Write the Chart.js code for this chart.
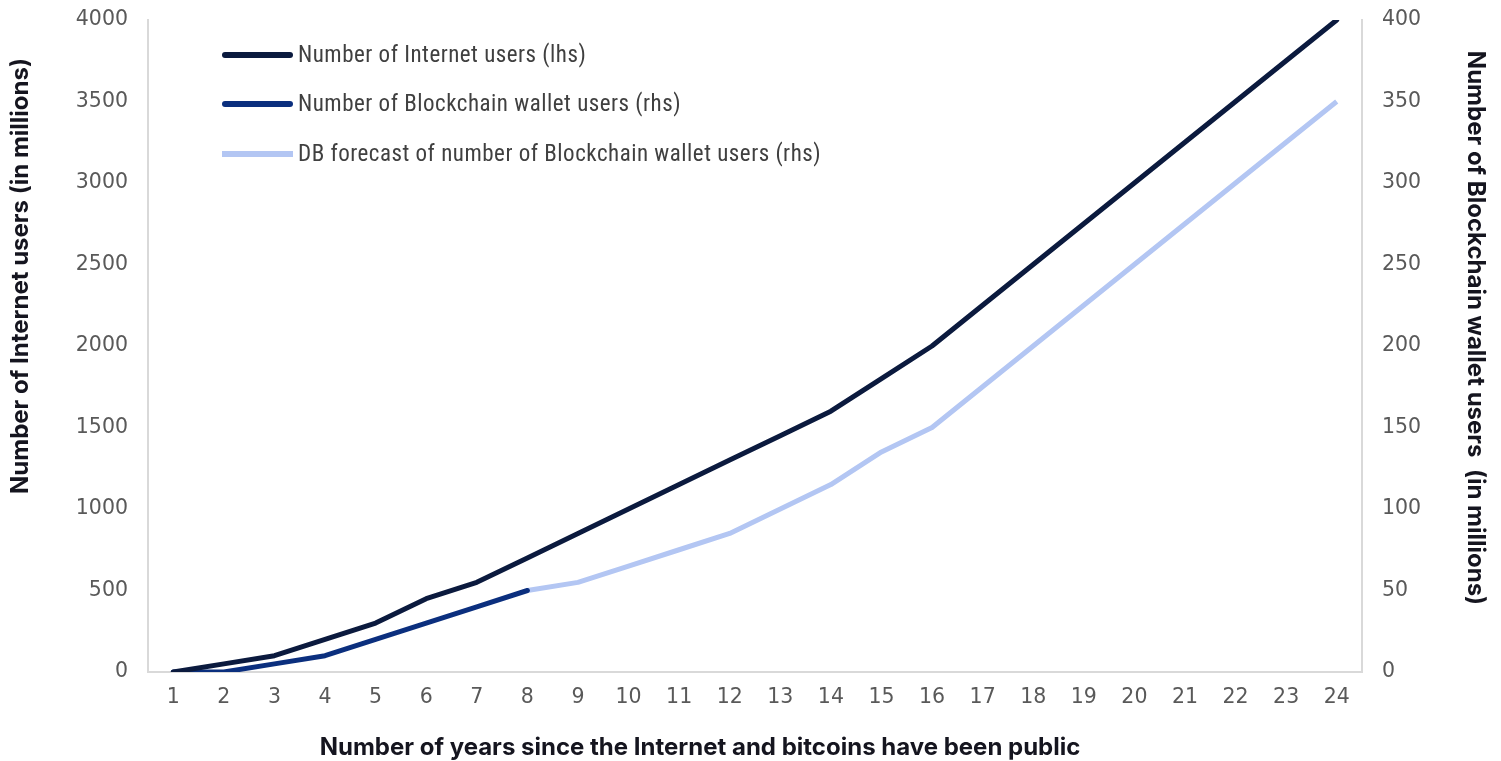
<!DOCTYPE html>
<html>
<head>
<meta charset="utf-8">
<script src="https://cdn.jsdelivr.net/npm/chart.js@4.4.1/dist/chart.umd.min.js"></script>
<style>
  html, body { margin: 0; padding: 0; background: #ffffff; }
  #wrap { width: 1501px; height: 761px; position: relative; }
</style>
</head>
<body>
<div id="wrap"><canvas id="c" width="1501" height="761"></canvas></div>
<script>
// ---- data ----
const years = ['1','2','3','4','5','6','7','8','9','10','11','12','13','14','15','16','17','18','19','20','21','22','23','24'];
const internetUsers = [0, 50, 100, 200, 300, 450, 550, 700, 850, 1000, 1150, 1300, 1450, 1600, 1800, 2000, 2250, 2500, 2750, 3000, 3250, 3500, 3750, 4000];
const walletUsers = [0, 0, 5, 10, 20, 30, 40, 50];           // years 1..8
const forecastStartYear = 8;
const walletForecast = [50, 55, 65, 75, 85, 100, 115, 135, 150, 175, 200, 225, 250, 275, 300, 325, 350]; // years 8..24
const leftTicks = [0, 500, 1000, 1500, 2000, 2500, 3000, 3500, 4000];
const rightTicks = [0, 50, 100, 150, 200, 250, 300, 350, 400];
const seriesNames = ['Number of Internet users (lhs)', 'Number of Blockchain wallet users (rhs)', 'DB forecast of number of Blockchain wallet users (rhs)'];
const leftTitle = 'Number of Internet users (in millions)';
const rightTitle = 'Number of Blockchain wallet users  (in millions)';
const xTitle = 'Number of years since the Internet and bitcoins have been public';

// aligned arrays
const walletAligned = years.map((_, i) => i < walletUsers.length ? walletUsers[i] : null);
const forecastAligned = years.map((_, i) => {
  const k = i - (forecastStartYear - 1);
  return k >= 0 && k < walletForecast.length ? walletForecast[k] : null;
});

const colors = ['#0b1a3e', '#0b2f7e', '#b3c6f3'];
const tickFont = { family: 'DejaVu Sans', size: 20.5 };
const tickColor = '#595959';
const axisLine = '#d9d9d9';

const overlay = {
  id: 'overlay',
  afterDraw(chart) {
    const ctx = chart.ctx;
    ctx.save();
    // legend
    const ds = chart.data.datasets;
    const ys = [55, 104, 154];
    ds.forEach((d, i) => {
      ctx.beginPath();
      ctx.strokeStyle = d.borderColor;
      ctx.lineWidth = 6;
      ctx.lineCap = i < 2 ? 'round' : 'butt';
      ctx.moveTo(i < 2 ? 225 : 222, ys[i]);
      ctx.lineTo(i < 2 ? 290 : 293, ys[i]);
      ctx.stroke();
      ctx.fillStyle = '#404040';
      ctx.font = '23px "Roboto Condensed", "Liberation Sans Narrow", "Liberation Sans", sans-serif';
      try { ctx.letterSpacing = '0.5px'; } catch (e) {}
      ctx.textAlign = 'left';
      ctx.textBaseline = 'middle';
      ctx.fillText(d.label, 298, ys[i] + 1);
    });
    try { ctx.letterSpacing = '0px'; } catch (e) {}
    // axis titles
    ctx.fillStyle = '#15151f';
    ctx.font = 'bold 24px Inter, "Liberation Sans", Arial, sans-serif';
    ctx.textAlign = 'center';
    ctx.textBaseline = 'middle';
    ctx.save();
    ctx.translate(21, 276);
    ctx.rotate(-Math.PI / 2);
    ctx.fillText(leftTitle, 0, 0);
    ctx.restore();
    ctx.save();
    ctx.translate(1475, 328);
    ctx.rotate(Math.PI / 2);
    ctx.fillText(rightTitle, 0, 0);
    ctx.restore();
    ctx.fillText(xTitle, 700, 748);
    ctx.restore();
  }
};

new Chart(document.getElementById('c'), {
  type: 'line',
  data: {
    labels: years,
    datasets: [
      { label: seriesNames[0], data: internetUsers, yAxisID: 'y', borderColor: colors[0], backgroundColor: colors[0],
        borderWidth: 5, borderCapStyle: 'round', borderJoinStyle: 'round', pointRadius: 0, tension: 0, order: 1 },
      { label: seriesNames[1], data: walletAligned, yAxisID: 'y2', borderColor: colors[1], backgroundColor: colors[1],
        borderWidth: 5, borderCapStyle: 'round', borderJoinStyle: 'round', pointRadius: 0, tension: 0, spanGaps: false, order: 2 },
      { label: seriesNames[2], data: forecastAligned, yAxisID: 'y2', borderColor: colors[2], backgroundColor: colors[2],
        borderWidth: 5, borderCapStyle: 'butt', borderJoinStyle: 'round', pointRadius: 0, tension: 0, spanGaps: false, order: 3 }
    ]
  },
  options: {
    responsive: false,
    animation: false,
    devicePixelRatio: 1,
    layout: { padding: { top: 20, left: 0, right: 0, bottom: 0 } },
    plugins: { legend: { display: false }, tooltip: { enabled: false } },
    scales: {
      x: {
        type: 'category',
        offset: true,
        grid: { display: false, drawTicks: false },
        border: { display: true, color: axisLine, width: 2 },
        ticks: { font: tickFont, color: tickColor, padding: 13, maxRotation: 0, autoSkip: false },
        afterFit(s) { s.height = 89; s.paddingLeft = 0; s.paddingRight = 0; }
      },
      y: {
        position: 'left',
        min: 0, max: 4000,
        afterBuildTicks(s) { s.ticks = leftTicks.map(v => ({ value: v })); },
        grid: { display: false, drawTicks: false },
        border: { display: true, color: axisLine, width: 2 },
        ticks: { font: tickFont, color: tickColor, padding: 20, callback: v => String(v) },
        afterFit(s) { s.width = 148; s.paddingTop = 0; s.paddingBottom = 0; }
      },
      y2: {
        position: 'right',
        min: 0, max: 400,
        afterBuildTicks(s) { s.ticks = rightTicks.map(v => ({ value: v })); },
        grid: { display: false, drawTicks: false },
        border: { display: true, color: axisLine, width: 2 },
        ticks: { font: tickFont, color: tickColor, padding: 20, callback: v => String(v) },
        afterFit(s) { s.width = 139; s.paddingTop = 0; s.paddingBottom = 0; }
      }
    }
  },
  plugins: [overlay]
});
</script>
</body>
</html>
